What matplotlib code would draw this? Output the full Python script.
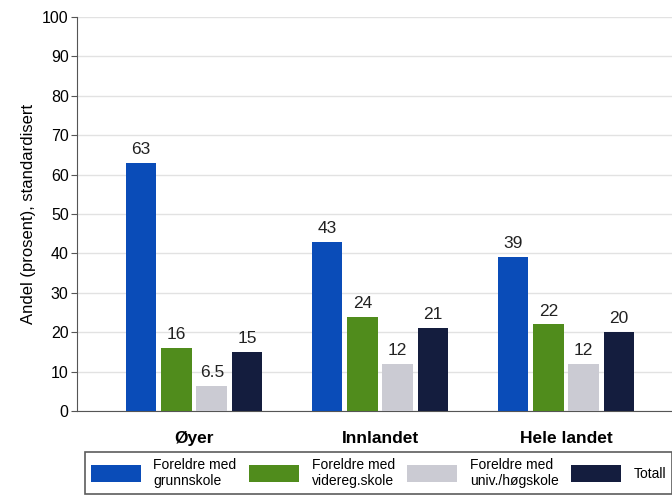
import numpy as np
import matplotlib
matplotlib.use("Agg")
from matplotlib import pyplot as plt

plt.rcParams['font.family'] = ['Liberation Sans', 'DejaVu Sans']

regions = ["Øyer", "Innlandet", "Hele landet"]
series_names = ["Foreldre med\ngrunnskole", "Foreldre med\nvidereg.skole",
                "Foreldre med\nuniv./høgskole", "Totall"]
grunnskole = [63, 43, 39]
videreg = [16, 24, 22]
univ = [6.5, 12, 12]
totalt = [15, 21, 20]
value_labels = [["63", "43", "39"], ["16", "24", "22"],
                ["6.5", "12", "12"], ["15", "21", "20"]]
colors = ['#0a4cb8', '#508c1c', '#cbcbd3', '#141d3e']

fig = plt.figure(figsize=(6.72, 4.96), dpi=100)
ax = fig.add_axes([0.1146, 0.171, 0.8854, 0.795])

x = np.arange(len(regions))
width = 0.165
step = 0.19
all_series = [grunnskole, videreg, univ, totalt]
handles = []
for i, vals in enumerate(all_series):
    pos = x + (i - 1.5) * step
    b = ax.bar(pos, vals, width, color=colors[i], label=series_names[i], zorder=3)
    handles.append(b)
    for p, v, lab in zip(pos, vals, value_labels[i]):
        ax.text(p, v + 1.5, lab, ha='center', va='bottom', fontsize=12.5, color='#222222')

ax.set_ylim(0, 100)
ax.set_xlim(-0.63, 2.57)
ax.set_yticks(range(0, 101, 10))
ax.yaxis.grid(True, color='#e2e2e2', linewidth=1, zorder=0)
ax.set_xticks(x)
ax.set_xticklabels(regions, fontsize=12.5, fontweight='bold')
ax.tick_params(axis='x', length=0, pad=14)
ax.tick_params(axis='y', labelsize=11.5, length=4, color='#555555', pad=2)
ax.set_ylabel("Andel (prosent), standardisert", fontsize=12, labelpad=4)
for s in ['top', 'right']:
    ax.spines[s].set_visible(False)
ax.spines['left'].set_color('#555555')
ax.spines['bottom'].set_color('#555555')

leg = fig.legend(handles=handles, loc='lower left', bbox_to_anchor=(0.127, 0.005, 0.873, 0.093),
                 mode='expand', ncol=4, fontsize=10, frameon=True, fancybox=False,
                 handlelength=3.6, handleheight=1.5, handletextpad=0.9, borderaxespad=0,
                 labelspacing=0.2, columnspacing=1.5)
leg.get_frame().set_edgecolor('#333333')
leg.get_frame().set_linewidth(1.2)

fig.savefig('out.png', dpi=100)
